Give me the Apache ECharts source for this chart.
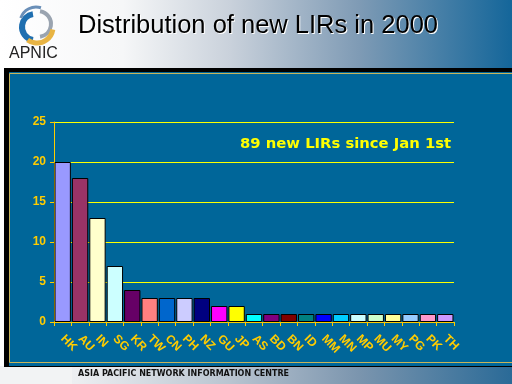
<!DOCTYPE html>
<html>
<head>
<meta charset="utf-8">
<style>
html,body{margin:0;padding:0;width:512px;height:384px;overflow:hidden;background:#fff;}
#chart{width:512px;height:384px;}
</style>
<script src="https://cdn.jsdelivr.net/npm/echarts@6/dist/echarts.min.js"></script>
</head>
<body>
<div id="chart"></div>
<script>
// Data
const categories = ['HK','AU','IN','SG','KR','TW','CN','PH','NZ','GU','JP','AS','BD','BN','ID','MM','MN','MP','MU','MY','PG','PK','TH'];
const values = [20,18,13,7,4,3,3,3,3,2,2,1,1,1,1,1,1,1,1,1,1,1,1];
const barColors = ['#9999FF','#993366','#FFFFCC','#CCFFFF','#660066','#FF8080','#0066CC','#CCCCFF','#000080','#FF00FF','#FFFF00','#00FFFF','#800080','#800000','#008080','#0000FF','#00CCFF','#CCFFFF','#CCFFCC','#FFFF99','#99CCFF','#FF99CC','#CC99FF'];
const yTicks = [0,5,10,15,20,25];
const titleText = 'Distribution of new LIRs in 2000';
const noteText = '89 new LIRs since Jan 1st';
const footerText = 'ASIA PACIFIC NETWORK INFORMATION CENTRE';

const chart = echarts.init(document.getElementById('chart'));

const headerGrad = new echarts.graphic.LinearGradient(0,0,1,0,[
  {offset:0,color:'#ffffff'},
  {offset:0.24,color:'#f6f7f8'},
  {offset:0.45,color:'#c9d1db'},
  {offset:0.7,color:'#7f9bb5'},
  {offset:1,color:'#14669a'}
]);
const footerGrad = new echarts.graphic.LinearGradient(0,0,1,0,[
  {offset:0,color:'#f4f5f6'},
  {offset:0.15,color:'#eceef1'},
  {offset:0.45,color:'#b9c4d0'},
  {offset:0.7,color:'#7b95ae'},
  {offset:1,color:'#2a6a97'}
]);

const option = {
  animation:false,
  backgroundColor:'#ffffff',
  graphic:[
    {type:'rect',z:-20,silent:true,shape:{x:0,y:0,width:512,height:70},style:{fill:headerGrad}},
    {type:'rect',z:-20,silent:true,shape:{x:0,y:366,width:512,height:18},style:{fill:footerGrad}},
    {type:'rect',z:-20,silent:true,shape:{x:0,y:366,width:72,height:18},style:{fill:'#f2f3f4'}},
    {type:'rect',z:-19,silent:true,shape:{x:4,y:68,width:508,height:299},style:{fill:'#000000'}},
    {type:'rect',z:-18,silent:true,shape:{x:9,y:72,width:503,height:294},style:{fill:'#006699'}},
    {type:'rect',z:-17,silent:true,shape:{x:9.5,y:73.5,width:510,height:289},style:{fill:null,stroke:'#c8b45a',lineWidth:1}},
    // logo
    {type:'arc',z:-15,silent:true,shape:{cx:35,cy:27,r:13,startAngle:Math.PI*0.55,endAngle:Math.PI*1.45},style:{stroke:'#1f6fb0',lineWidth:6,fill:null}},
    {type:'arc',z:-15,silent:true,shape:{cx:38,cy:24,r:13,startAngle:Math.PI*1.55,endAngle:Math.PI*0.45},style:{stroke:'#9aa4b0',lineWidth:4,fill:null}},
    {type:'arc',z:-15,silent:true,shape:{cx:37,cy:27,r:16,startAngle:Math.PI*0.05,endAngle:Math.PI*0.7},style:{stroke:'#e8b443',lineWidth:5,fill:null}},
    {type:'arc',z:-15,silent:true,shape:{cx:36,cy:23,r:16,startAngle:Math.PI*1.1,endAngle:Math.PI*1.6},style:{stroke:'#6a8fb8',lineWidth:3,fill:null}},
    {type:'text',z:-14,silent:true,left:9,top:46,style:{text:'APNIC',font:'16px "Liberation Sans", Arial, sans-serif',fill:'#222222'}},
    // title with white shadow
    {type:'text',z:-14,silent:true,left:79,top:14,style:{text:titleText,font:'25.5px "Liberation Sans", Arial, sans-serif',fill:'#ffffff'}},
    {type:'text',z:-13,silent:true,left:78,top:13,style:{text:titleText,font:'25.5px "Liberation Sans", Arial, sans-serif',fill:'#000000'}},
    {type:'text',z:10,silent:true,left:240,top:137,style:{text:noteText,font:'bold 14.8px "DejaVu Sans", sans-serif',fill:'#FFFF00'}},
    {type:'text',z:-12,silent:true,left:78,top:370,style:{text:footerText,font:'bold 8px "DejaVu Sans", sans-serif',fill:'#111111'}}
  ],
  grid:{left:54,right:58,top:122,bottom:62,containLabel:false},
  xAxis:{
    type:'category',
    data:categories,
    axisLine:{lineStyle:{color:'#FFCC00',width:1}},
    axisTick:{show:true,length:4,lineStyle:{color:'#FFCC00'}},
    axisLabel:{rotate:-45,interval:0,color:'#FFCC00',fontWeight:'bold',fontSize:12,fontFamily:'"Liberation Sans", Arial, sans-serif',margin:15}
  },
  yAxis:{
    type:'value',
    min:yTicks[0],max:yTicks[yTicks.length-1],interval:5,
    axisLine:{show:true,lineStyle:{color:'#FFCC00',width:1}},
    axisTick:{show:true,length:4,lineStyle:{color:'#FFCC00'}},
    axisLabel:{color:'#FFCC00',fontWeight:'bold',fontSize:12,fontFamily:'"Liberation Sans", Arial, sans-serif',margin:8},
    splitLine:{show:true,lineStyle:{color:'#FFFF00',width:1}}
  },
  series:[{
    type:'bar',
    data:values.map((v,i)=>({value:v,itemStyle:{color:barColors[i]}})),
    barCategoryGap:'6%',
    itemStyle:{borderColor:'#000000',borderWidth:1},
    z:3
  }]
};
chart.setOption(option);
</script>
</body>
</html>
